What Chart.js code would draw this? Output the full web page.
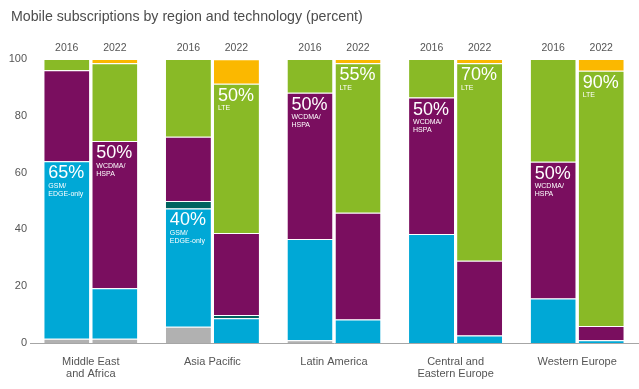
<!DOCTYPE html>
<html>
<head>
<meta charset="utf-8">
<script src="https://cdn.jsdelivr.net/npm/chart.js@4.4.1/dist/chart.umd.min.js"></script>
<style>
  html, body { margin: 0; padding: 0; background: #fff; }
  #wrap { width: 639px; height: 389px; }
</style>
</head>
<body>
<div id="wrap"><canvas id="mobileChart" width="639" height="389"></canvas></div>
<script>
// data (percent of subscriptions)
const regions = [['Middle East', 'and Africa'], 'Asia Pacific', 'Latin America', ['Central and', 'Eastern Europe'], 'Western Europe'];
const years = ['2016', '2022'];
const yTicks = [0, 20, 40, 60, 80, 100];

const other2016 = [1.5, 5.7, 1, 0, 0];
const other2022 = [1.5, 0, 0, 0, 0];
const gsm2016 = [62.5, 41.7, 35.6, 38.4, 15.7];
const gsm2022 = [17.8, 8.7, 8.3, 2.6, 1];
const tdscdma2016 = [0, 2.6, 0, 0, 0];
const tdscdma2022 = [0, 1.2, 0, 0, 0];
const wcdma2016 = [32, 22.6, 51.5, 48, 48.1];
const wcdma2022 = [51.8, 28.8, 37.6, 26.4, 5];
const lte2016 = [4, 27.4, 11.9, 13.6, 36.2];
const lte2022 = [27.4, 52.6, 52.6, 69.5, 89.9];
const fiveG2016 = [0, 0, 0, 0, 0];
const fiveG2022 = [1.5, 8.6, 1.5, 1.5, 4.1];

// in-bar labels: region index, year, technology, big text, small lines
const barNotes = [
    [0, '2016', 'gsm', '65%', ['GSM/', 'EDGE-only']],
    [0, '2022', 'wcdma', '50%', ['WCDMA/', 'HSPA']],
    [1, '2016', 'gsm', '40%', ['GSM/', 'EDGE-only']],
    [1, '2022', 'lte', '50%', ['LTE']],
    [2, '2016', 'wcdma', '50%', ['WCDMA/', 'HSPA']],
    [2, '2022', 'lte', '55%', ['LTE']],
    [3, '2016', 'wcdma', '50%', ['WCDMA/', 'HSPA']],
    [3, '2022', 'lte', '70%', ['LTE']],
    [4, '2016', 'wcdma', '50%', ['WCDMA/', 'HSPA']],
    [4, '2022', 'lte', '90%', ['LTE']]
];

const techs = [
    { key: 'other', color: '#b1b1b1', data: { '2016': other2016, '2022': other2022 } },
    { key: 'gsm', color: '#00a8d6', data: { '2016': gsm2016, '2022': gsm2022 } },
    { key: 'tdscdma', color: '#00635f', data: { '2016': tdscdma2016, '2022': tdscdma2022 } },
    { key: 'wcdma', color: '#7a0e5f', data: { '2016': wcdma2016, '2022': wcdma2022 } },
    { key: 'lte', color: '#89ba26', data: { '2016': lte2016, '2022': lte2022 } },
    { key: '5g', color: '#fbb800', data: { '2016': fiveG2016, '2022': fiveG2022 } }
];

const datasets = [];
techs.forEach(t => {
    years.forEach(y => {
        datasets.push({
            label: t.key + ' ' + y,
            tech: t.key,
            year: y,
            stack: y,
            data: t.data[y],
            backgroundColor: t.color,
            borderColor: '#ffffff',
            borderWidth: { top: 1, left: 0, right: 0, bottom: 0 },
            borderSkipped: false,
            categoryPercentage: 0.79,
            barPercentage: 0.9375
        });
    });
});

const FONT = '"Liberation Sans", Arial, sans-serif';

// draws title, year labels above bars and the labels inside bars
const textPlugin = {
    id: 'textPlugin',
    afterDatasetsDraw(chart) {
        const c = chart.ctx;
        c.save();
        c.fillStyle = '#4d4d4d';
        c.font = '14.2px ' + FONT;
        c.textAlign = 'left';
        c.textBaseline = 'middle';
        c.fillText('Mobile subscriptions by region and technology (percent)', 11, 17);

        c.fillStyle = '#555';
        c.font = '10.5px ' + FONT;
        c.textAlign = 'center';
        years.forEach(y => {
            const idx = chart.data.datasets.findIndex(d => d.tech === 'gsm' && d.year === y);
            chart.getDatasetMeta(idx).data.forEach(el => {
                c.fillText(y, el.x, 48);
            });
        });

        c.fillStyle = '#fff';
        c.textAlign = 'left';
        c.textBaseline = 'top';
        barNotes.forEach(n => {
            const idx = chart.data.datasets.findIndex(d => d.tech === n[2] && d.year === n[1]);
            const el = chart.getDatasetMeta(idx).data[n[0]];
            const left = el.x - el.width / 2 + 4;
            c.font = '300 18px ' + FONT;
            c.fillText(n[3], left, el.y + 3);
            c.font = '7px ' + FONT;
            n[4].forEach((line, i) => {
                c.fillText(line, left, el.y + 21 + i * 8);
            });
        });
        c.restore();
    }
};

const ctx = document.getElementById('mobileChart').getContext('2d');
new Chart(ctx, {
    type: 'bar',
    data: { labels: regions, datasets: datasets },
    options: {
        responsive: false,
        animation: false,
        layout: { padding: { top: 59, right: 1, left: 0, bottom: 0 } },
        plugins: {
            legend: { display: false },
            tooltip: { enabled: false }
        },
        scales: {
            x: {
                stacked: true,
                grid: { display: false, drawTicks: false },
                border: { display: true, color: '#a6a6a6', width: 1 },
                ticks: { color: '#555', font: { family: FONT, size: 11, lineHeight: 1.1 }, padding: 13, maxRotation: 0, autoSkip: false },
                afterFit(scale) { scale.height = 46; }
            },
            y: {
                stacked: true,
                min: 0,
                max: 100,
                grid: { display: false, drawTicks: false },
                border: { display: false },
                afterBuildTicks(scale) { scale.ticks = yTicks.map(v => ({ value: v })); },
                ticks: { color: '#555', font: { family: FONT, size: 11 }, padding: 3 },
                afterFit(scale) { scale.width = 30; }
            }
        }
    },
    plugins: [textPlugin]
});
</script>
</body>
</html>
